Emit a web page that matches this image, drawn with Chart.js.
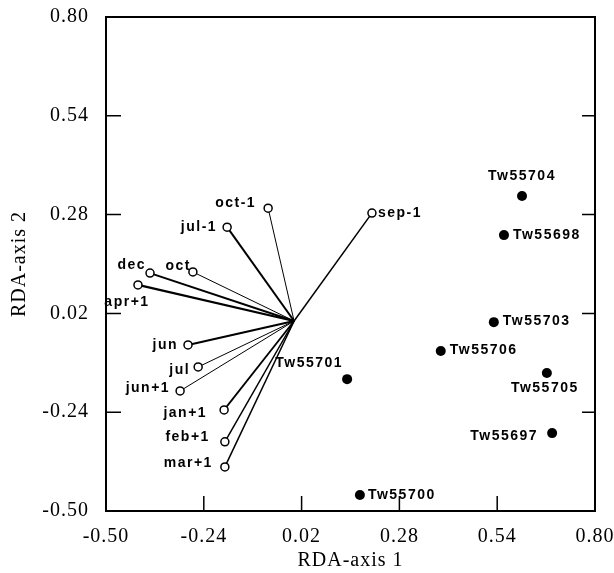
<!DOCTYPE html>
<html>
<head>
<meta charset="utf-8">
<script src="https://cdn.jsdelivr.net/npm/chart.js@4"></script>
<style>
  html, body { margin: 0; padding: 0; background: #fff; }
  #wrap { width: 614px; height: 573px; position: relative; }
</style>
</head>
<body>
<div id="wrap"><canvas id="rda"></canvas></div>
<script>
// ticks on both axes
const tickVals = [-0.50, -0.24, 0.02, 0.28, 0.54, 0.80];

// climate variables (open circles, arrows from origin)
const envNames = ['oct-1', 'jul-1', 'sep-1', 'dec', 'oct', 'apr+1', 'jun', 'jul', 'jun+1', 'jan+1', 'feb+1', 'mar+1'];
const envX = [-0.069, -0.178, 0.207, -0.383, -0.269, -0.415, -0.282, -0.255, -0.303, -0.186, -0.184, -0.184];
const envY = [0.297, 0.247, 0.284, 0.126, 0.129, 0.095, -0.063, -0.121, -0.184, -0.234, -0.318, -0.384];

// sites (filled dots)
const siteNames = ['Tw55704', 'Tw55698', 'Tw55703', 'Tw55706', 'Tw55705', 'Tw55697', 'Tw55701', 'Tw55700'];
const siteX = [0.606, 0.558, 0.531, 0.390, 0.672, 0.686, 0.141, 0.175];
const siteY = [0.329, 0.226, -0.003, -0.079, -0.137, -0.295, -0.153, -0.458];

// arrow widths (thick/thin as printed)
const envLineW = [1, 2, 1.5, 2, 1, 2.2, 2, 1, 1, 1.8, 1.5, 1.5];

// label placement: [align, dx, dy]
const envLabelPos = [
  ['right', -12, -5], ['right', -10, 0], ['left', 6, 0], ['right', -4, -8],
  ['right', -2, -6], ['center', -11, 17], ['right', -10, 0], ['right', -8, 3],
  ['right', -10, -3], ['right', -17, 3], ['right', -15, -5], ['right', -12, -4]
];
const siteLabelPos = [
  ['center', 0, -20], ['left', 9, 0], ['left', 9, -1], ['left', 9, -1],
  ['center', -2, 15], ['right', -14, 3], ['right', -4, -16], ['left', 8, 0]
];

const envPts = envNames.map((n, i) => ({ x: envX[i], y: envY[i] }));
const sitePts = siteNames.map((n, i) => ({ x: siteX[i], y: siteY[i] }));

const arrowSets = envPts.map((p, i) => ({
  type: 'scatter',
  data: [{ x: 0, y: 0 }, p],
  showLine: true,
  borderColor: '#000',
  borderWidth: envLineW[i],
  pointRadius: 0,
  order: 5
}));

const boxTicks = {
  id: 'boxTicks',
  beforeDraw(chart) {
    chart.ctx.letterSpacing = '1px';
  },
  afterDraw(chart) {
    const { ctx, chartArea: a, scales } = chart;
    ctx.save();
    ctx.strokeStyle = '#000';
    ctx.lineWidth = 2;
    ctx.strokeRect(a.left, a.top, a.right - a.left, a.bottom - a.top);
    ctx.lineWidth = 1.5;
    ctx.beginPath();
    tickVals.slice(1, -1).forEach(v => {
      const px = scales.x.getPixelForValue(v);
      ctx.moveTo(px, a.bottom); ctx.lineTo(px, a.bottom - 15);
      const py = scales.y.getPixelForValue(v);
      ctx.moveTo(a.left, py); ctx.lineTo(a.left + 15, py);
      ctx.moveTo(a.right, py); ctx.lineTo(a.right - 13, py);
    });
    ctx.stroke();

    // point labels
    ctx.fillStyle = '#000';
    ctx.font = 'bold 14px "Liberation Sans", Arial, sans-serif';
    ctx.letterSpacing = '1.5px';
    ctx.textBaseline = 'middle';
    const put = (meta, names, pos) => {
      meta.data.forEach((el, i) => {
        ctx.textAlign = pos[i][0];
        ctx.fillText(names[i], el.x + pos[i][1], el.y + pos[i][2]);
      });
    };
    put(chart.getDatasetMeta(0), envNames, envLabelPos);
    put(chart.getDatasetMeta(1), siteNames, siteLabelPos);
    ctx.restore();
  }
};

const serif = { family: '"Liberation Serif", "Times New Roman", serif', size: 20 };

new Chart(document.getElementById('rda'), {
  type: 'scatter',
  data: {
    datasets: [
      {
        data: envPts,
        pointStyle: 'circle',
        pointRadius: 4,
        pointBackgroundColor: '#fff',
        pointBorderColor: '#000',
        pointBorderWidth: 1.5,
        order: 1
      },
      {
        data: sitePts,
        pointStyle: 'circle',
        pointRadius: 5,
        pointBackgroundColor: '#000',
        pointBorderColor: '#000',
        pointBorderWidth: 0,
        order: 1
      },
      ...arrowSets
    ]
  },
  options: {
    responsive: true,
    maintainAspectRatio: false,
    animation: false,
    layout: { padding: { top: 17, right: 19, left: 0, bottom: 0 } },
    plugins: {
      legend: { display: false },
      tooltip: { enabled: false }
    },
    scales: {
      x: {
        type: 'linear',
        min: -0.5,
        max: 0.8,
        afterBuildTicks: s => { s.ticks = tickVals.map(v => ({ value: v })); },
        afterFit: s => { s.height = 62; s.paddingLeft = 0; s.paddingRight = 0; },
        grid: { display: false },
        border: { display: false },
        ticks: {
          callback: v => v.toFixed(2),
          font: serif,
          color: '#000',
          padding: 6,
          maxRotation: 0
        },
        title: {
          display: true,
          text: 'RDA-axis 1',
          font: serif,
          color: '#000',
          padding: { top: 0, bottom: 0 }
        }
      },
      y: {
        type: 'linear',
        min: -0.5,
        max: 0.8,
        afterBuildTicks: s => { s.ticks = tickVals.map(v => ({ value: v })); },
        afterFit: s => { s.width = 106; s.paddingTop = 0; s.paddingBottom = 0; },
        grid: { display: false },
        border: { display: false },
        ticks: {
          callback: v => v.toFixed(2),
          font: serif,
          color: '#000',
          padding: 9
        },
        title: {
          display: true,
          text: 'RDA-axis 2',
          font: serif,
          color: '#000',
          padding: { top: 8, bottom: 0 }
        }
      }
    }
  },
  plugins: [boxTicks]
});
</script>
</body>
</html>
